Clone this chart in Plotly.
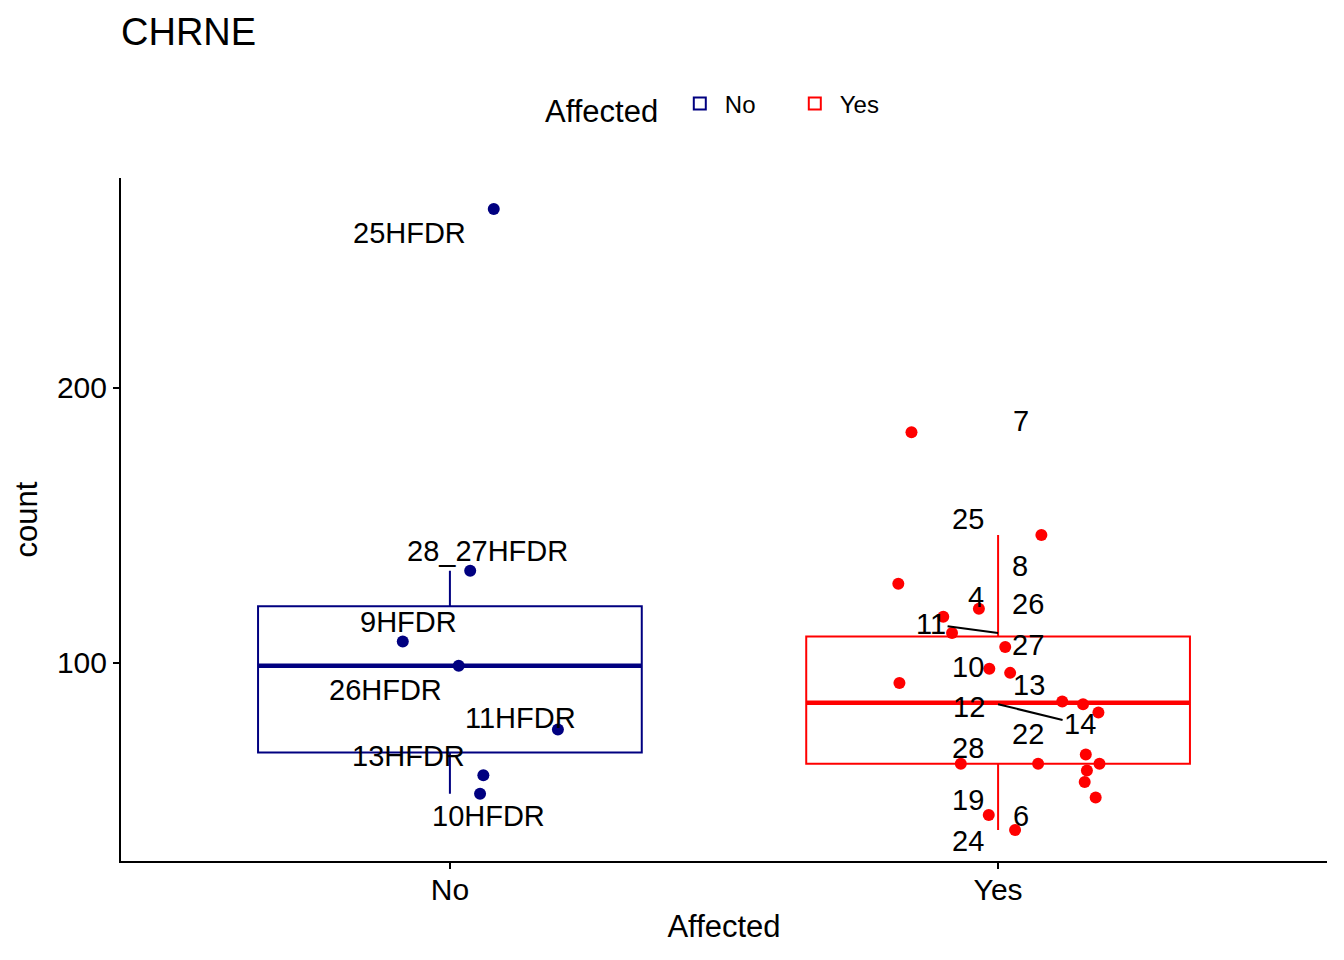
import numpy as np
import plotly.graph_objects as go

# ---- data ----
categories = ["No", "Yes"]

no_labels = ["25HFDR", "28_27HFDR", "9HFDR", "26HFDR", "11HFDR", "13HFDR", "10HFDR"]
no_counts = [264.9, 133.4, 107.7, 98.9, 75.7, 59.1, 52.4]
no_jitter = [0.080, 0.037, -0.086, 0.016, 0.197, 0.061, 0.055]

yes_labels = ["7", "25", "8", "4", "26", "11", "27", "10", "13", "", "12", "14",
              "22", "28", "", "", "", "", "", "19", "6", "24"]
yes_counts = [183.8, 146.4, 128.7, 119.6, 116.7, 110.8, 105.7, 97.8, 96.3, 92.6, 85.9, 84.9,
              81.9, 66.6, 63.3, 63.3, 63.3, 60.8, 56.6, 51.0, 44.6, 39.2]
yes_jitter = [-0.158, 0.079, -0.182, -0.035, -0.100, -0.084, 0.013, -0.016, 0.022, -0.180, 0.117, 0.155,
              0.183, 0.160, -0.068, 0.073, 0.185, 0.162, 0.158, 0.178, -0.017, 0.031]

# label placement (pixel offsets from the un-jittered point, like ggrepel), dy positive = down
label_offsets = {
    "25HFDR": (-40, 24), "28_27HFDR": (38, -20), "9HFDR": (-41, -20), "26HFDR": (-64, 24),
    "11HFDR": (71, -12), "13HFDR": (-41, -19), "10HFDR": (39, 22),
    "7": (23, -11), "25": (-30, -16), "8": (22, -18), "4": (-22, -12), "26": (30, -13),
    "11": (-67, -9), "27": (30, -2), "10": (-30, -2), "13": (31, 12), "12": (-29, 6),
    "14": (82, 20), "22": (30, 22), "28": (-30, -7), "19": (-30, 3), "6": (23, 1), "24": (-30, 11),
}
arrow_labels = {"11", "14"}

colors = {"No": "#000080", "Yes": "#FF0000"}
FONT = "Liberation Sans, Arial, sans-serif"
BOX_W = 0.7

# page has an 8px body margin, so the figure is drawn 16px smaller
W, H = 1328, 944

groups = [
    ("No", 1, no_labels, no_counts, no_jitter),
    ("Yes", 2, yes_labels, yes_counts, yes_jitter),
]


def box_stats(vals):
    v = np.asarray(vals)
    q1, med, q3 = np.percentile(v, [25, 50, 75])
    iqr = q3 - q1
    lo = v[v >= q1 - 1.5 * iqr].min()
    hi = v[v <= q3 + 1.5 * iqr].max()
    return q1, med, q3, lo, hi


fig = go.Figure()

# boxes
for name, pos, labels, counts, jit in groups:
    q1, med, q3, lo, hi = box_stats(counts)
    fig.add_trace(go.Box(
        x=[pos], q1=[q1], median=[med], q3=[q3], lowerfence=[lo], upperfence=[hi],
        width=BOX_W, whiskerwidth=0, boxpoints=False,
        line=dict(color=colors[name], width=2), fillcolor="rgba(255,255,255,0)",
        name=name, legendgroup=name, showlegend=True, hoverinfo="skip",
    ))
    # thick median bar as in ggplot
    fig.add_trace(go.Scatter(
        x=[pos - BOX_W / 2, pos + BOX_W / 2], y=[med, med], mode="lines",
        line=dict(color=colors[name], width=4.5), showlegend=False, hoverinfo="skip",
    ))

# jittered points
for name, pos, labels, counts, jit in groups:
    fig.add_trace(go.Scatter(
        x=[pos + j for j in jit], y=counts, mode="markers",
        marker=dict(color=colors[name], size=12),
        name=name, legendgroup=name, showlegend=False,
        text=labels, hoverinfo="text+y",
    ))

# repelled labels
annotations = []
for name, pos, labels, counts, jit in groups:
    for lab, val in zip(labels, counts):
        if not lab:
            continue
        dx, dy = label_offsets[lab]
        if lab in arrow_labels:
            annotations.append(dict(
                x=pos, y=val, text=lab, showarrow=True, ax=dx, ay=dy,
                arrowhead=0, arrowwidth=2, arrowcolor="black", standoff=0,
                font=dict(size=29, color="black", family=FONT),
            ))
        else:
            annotations.append(dict(
                x=pos, y=val, text=lab, showarrow=False, xshift=dx, yshift=-dy,
                xanchor="center", yanchor="middle",
                font=dict(size=29, color="black", family=FONT),
            ))

all_counts = np.array(no_counts + yes_counts)
span = all_counts.max() - all_counts.min()
y_range = [all_counts.min() - 0.05 * span, all_counts.max() + 0.05 * span]

axis_style = dict(
    showline=True, linecolor="black", linewidth=2, mirror=False,
    ticks="outside", ticklen=6, tickwidth=2, tickcolor="black",
    showgrid=False, zeroline=False, automargin=False,
    tickfont=dict(size=30, color="black", family=FONT),
)

fig.update_layout(
    width=W, height=H,
    margin=dict(l=113, r=9, t=170, b=91),
    paper_bgcolor="white", plot_bgcolor="white",
    font=dict(family=FONT, color="black"),
    title=dict(text="CHRNE", x=113 / W, xref="container", xanchor="left",
               y=1 - 24 / H, yref="container", yanchor="middle",
               font=dict(size=38, color="black", family=FONT)),
    legend=dict(orientation="h", x=0.5, xanchor="center", y=1.104, yanchor="middle",
                title=dict(text="Affected ", side="left", font=dict(size=31)),
                font=dict(size=24), itemwidth=40, entrywidth=60,
                bgcolor="rgba(0,0,0,0)"),
    annotations=annotations,
    xaxis=dict(range=[0.4, 2.6], tickvals=[1, 2], ticktext=categories, ticklabelstandoff=-5,
               title=dict(text="Affected", font=dict(size=31), standoff=10), **axis_style),
    yaxis=dict(range=y_range, tickvals=[100, 200],
               title=dict(text="count", font=dict(size=31), standoff=10), **axis_style),
)

fig.write_html("out.html")
